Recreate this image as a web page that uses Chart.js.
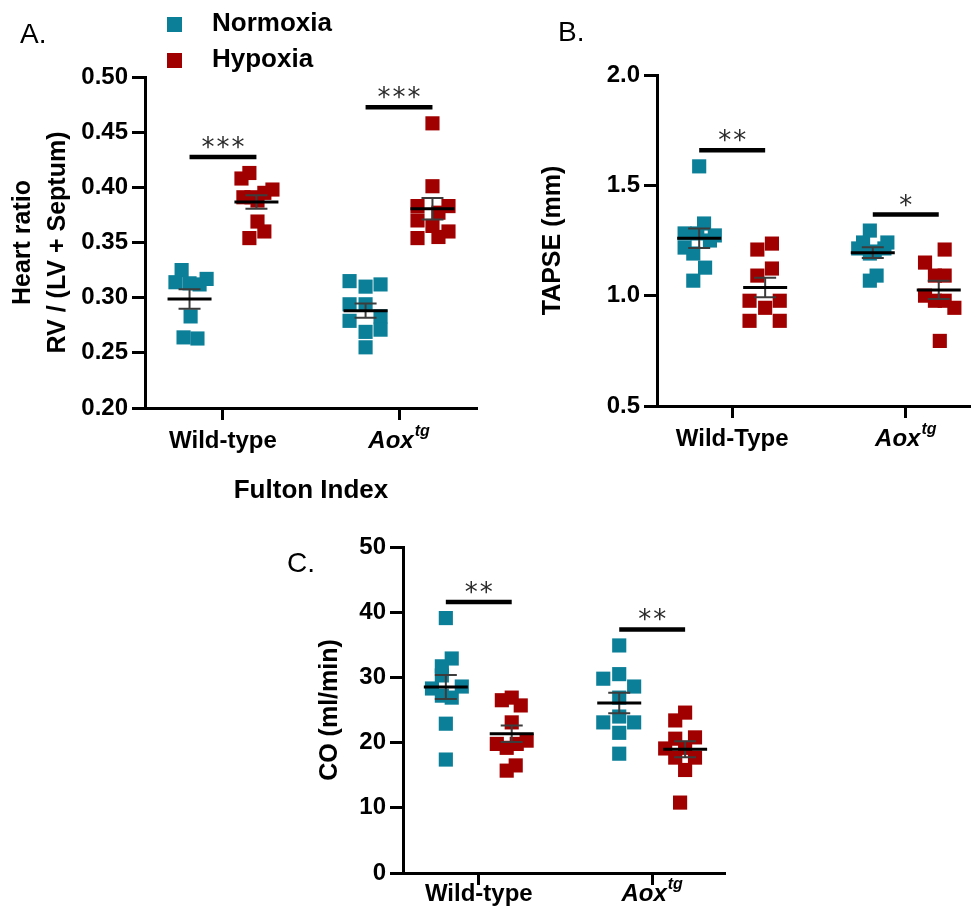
<!DOCTYPE html>
<html>
<head>
<meta charset="utf-8">
<title>Fulton index, TAPSE and cardiac output</title>
<script src="https://cdn.jsdelivr.net/npm/chart.js@4.4.0/dist/chart.umd.min.js"></script>
<style>
  html, body { margin: 0; padding: 0; background: #fff; }
  body { position: relative; width: 980px; height: 911px; overflow: hidden; }
  canvas { position: absolute; }
  #chartA { left: 0; top: 0; }
  #chartB { left: 490px; top: 0; }
  #chartC { left: 270px; top: 500px; }
</style>
</head>
<body>
<canvas id="chartA" width="490" height="520"></canvas>
<canvas id="chartB" width="490" height="460"></canvas>
<canvas id="chartC" width="480" height="411"></canvas>
<script>
const teal = '#0c7f98';
const crimson = '#a10000';
const GROUP_OFFSET = 0.19; // normoxia left of the genotype tick, hypoxia right

// A. Fulton index, RV / (LV + septum)
const fultonWtNormoxia = [0.325, 0.317, 0.314, 0.313, 0.312, 0.283, 0.264, 0.263];
const fultonWtNormoxiaJitter = [-0.045, 0.097, -0.08, 0, 0.057, 0.006, -0.034, 0.045];
const fultonWtHypoxia = [0.413, 0.408, 0.398, 0.395, 0.391, 0.391, 0.388, 0.369, 0.360, 0.354];
const fultonWtHypoxiaJitter = [-0.04, -0.085, 0.091, 0.045, -0.074, -0.028, 0.006, 0.006, 0.045, -0.04];
const fultonAoxNormoxia = [0.315, 0.312, 0.310, 0.294, 0.294, 0.283, 0.279, 0.271, 0.269, 0.255];
const fultonAoxNormoxiaJitter = [-0.091, 0.085, 0, -0.091, 0, 0.085, -0.091, 0.085, 0, 0];
const fultonAoxHypoxia = [0.458, 0.401, 0.383, 0.383, 0.377, 0.370, 0.365, 0.360, 0.355, 0.354];
const fultonAoxHypoxiaJitter = [0, 0, -0.085, 0.091, 0.034, -0.085, 0, 0.091, 0.034, -0.085];
const fultonTicks = [0.20, 0.25, 0.30, 0.35, 0.40, 0.45, 0.50];
const fultonStars = ['***', '***'];

// B. TAPSE (mm)
const tapseWtNormoxia = [1.586, 1.327, 1.282, 1.282, 1.273, 1.25, 1.218, 1.191, 1.127, 1.068];
const tapseWtNormoxiaJitter = [0, 0.028, -0.084, -0.011, 0.09, 0.062, -0.084, -0.034, 0.034, -0.034];
const tapseWtHypoxia = [1.236, 1.209, 1.123, 1.091, 0.977, 0.977, 0.945, 0.886, 0.886];
const tapseWtHypoxiaJitter = [0.039, -0.045, 0.039, -0.045, -0.09, 0.084, 0, -0.09, 0.084];
const tapseAoxNormoxia = [1.295, 1.241, 1.241, 1.214, 1.214, 1.20, 1.191, 1.091, 1.068];
const tapseAoxNormoxiaJitter = [-0.017, -0.056, 0.084, -0.084, 0.067, 0.011, -0.017, 0.022, -0.017];
const tapseAoxHypoxia = [1.209, 1.150, 1.091, 1.091, 1.000, 0.977, 0.977, 0.945, 0.795];
const tapseAoxHypoxiaJitter = [0.034, -0.079, -0.022, 0.034, -0.079, -0.022, 0.034, 0.09, 0.006];
const tapseTicks = [0.5, 1.0, 1.5, 2.0];
const tapseStars = ['**', '*'];

// C. cardiac output (ml/min)
const coWtNormoxia = [39.1, 32.9, 31.7, 30.3, 28.6, 28.3, 27.2, 26.9, 22.9, 17.4];
const coWtNormoxiaJitter = [0, 0.034, -0.023, -0.023, 0.092, -0.08, -0.023, 0.034, 0, 0];
const coWtHypoxia = [26.9, 26.5, 25.7, 23.1, 20.3, 19.8, 19.8, 19.2, 16.5, 15.7];
const coWtHypoxiaJitter = [0, -0.057, 0.052, 0, 0.086, -0.086, 0.029, -0.029, 0.023, -0.029];
const coAoxNormoxia = [34.9, 30.5, 29.8, 28.6, 26.9, 24.0, 23.1, 23.1, 21.5, 18.3];
const coAoxNormoxiaJitter = [0, 0, -0.092, 0.086, 0, 0, -0.092, 0.086, 0, 0];
const coAoxHypoxia = [24.6, 23.4, 20.8, 20.6, 19.2, 19.1, 17.7, 17.7, 15.8, 10.8];
const coAoxHypoxiaJitter = [0, -0.057, 0.057, -0.057, 0, -0.115, -0.057, 0.057, 0, -0.029];
const coTicks = [0, 10, 20, 30, 40, 50];
const coStars = ['**', '**'];

const genotypes = ['Wild-type', 'Aox'];
const genotypesB = ['Wild-Type', 'Aox'];
const genotypeSup = ['', 'tg'];
const genotypeItalic = [false, true];

const FONT = '"Liberation Sans", Arial, sans-serif';
const tickFont = { family: FONT, size: 24, weight: 'bold' };

function group(label, values, jitter, category, side, color) {
  const center = category + side * GROUP_OFFSET;
  return {
    label,
    category,
    center,
    data: values.map((v, i) => ({ x: center + jitter[i], y: v })),
    backgroundColor: color,
    borderWidth: 0,
    pointStyle: 'rect',
    pointRadius: 10,
  };
}

// mean line with SEM whiskers for every group
const groupStats = {
  id: 'groupStats',
  afterDatasetsDraw(chart) {
    const { ctx, scales: { x, y } } = chart;
    chart.data.datasets.forEach((ds) => {
      const vals = ds.data.map((p) => p.y);
      const n = vals.length;
      const mean = vals.reduce((a, b) => a + b, 0) / n;
      const sd = Math.sqrt(vals.reduce((a, b) => a + (b - mean) ** 2, 0) / (n - 1));
      const sem = sd / Math.sqrt(n);
      const cx = x.getPixelForValue(ds.center);
      const yMean = y.getPixelForValue(mean);
      const yHi = y.getPixelForValue(mean + sem);
      const yLo = y.getPixelForValue(mean - sem);
      ctx.save();
      ctx.strokeStyle = '#3c3c3c';
      ctx.lineWidth = 2;
      ctx.beginPath();
      ctx.moveTo(cx, yHi); ctx.lineTo(cx, yLo);
      ctx.moveTo(cx - 11, yHi); ctx.lineTo(cx + 11, yHi);
      ctx.moveTo(cx - 11, yLo); ctx.lineTo(cx + 11, yLo);
      ctx.stroke();
      ctx.strokeStyle = '#000';
      ctx.lineWidth = 3;
      ctx.beginPath();
      ctx.moveTo(cx - 22, yMean); ctx.lineTo(cx + 22, yMean);
      ctx.stroke();
      ctx.restore();
    });
  },
};

// normoxia vs hypoxia bracket with stars
const significance = {
  id: 'significance',
  afterDatasetsDraw(chart, args, opts) {
    const { ctx, scales: { x, y } } = chart;
    opts.stars.forEach((stars, cat) => {
      const vals = chart.data.datasets
        .filter((ds) => ds.category === cat)
        .flatMap((ds) => ds.data.map((p) => p.y));
      const barY = y.getPixelForValue(Math.max(...vals)) - 16;
      const x0 = x.getPixelForValue(cat - GROUP_OFFSET);
      const x1 = x.getPixelForValue(cat + GROUP_OFFSET);
      ctx.save();
      ctx.strokeStyle = '#000';
      ctx.lineWidth = 4.5;
      ctx.beginPath();
      ctx.moveTo(x0, barY); ctx.lineTo(x1, barY);
      ctx.stroke();
      ctx.fillStyle = '#2a2a2a';
      ctx.font = '26px "DejaVu Sans", sans-serif';
      ctx.textAlign = 'center';
      ctx.textBaseline = 'alphabetic';
      const mid = (x0 + x1) / 2;
      for (let i = 0; i < stars.length; i += 1) {
        ctx.fillText('*', mid + (i - (stars.length - 1) / 2) * 15, barY - 1);
      }
      ctx.restore();
    });
  },
};

// genotype labels under the x ticks (Aox is italic with a superscript)
const categoryLabels = {
  id: 'categoryLabels',
  afterDraw(chart, args, opts) {
    const { ctx, scales: { x }, chartArea } = chart;
    ctx.save();
    ctx.fillStyle = '#000';
    ctx.textBaseline = 'middle';
    ctx.textAlign = 'left';
    opts.labels.forEach((label, i) => {
      const mainFont = `${genotypeItalic[i] ? 'italic ' : ''}bold 24px ${FONT}`;
      const supFont = `italic bold 16px ${FONT}`;
      ctx.font = mainFont;
      const w = ctx.measureText(label).width;
      ctx.font = supFont;
      const ws = genotypeSup[i] ? ctx.measureText(genotypeSup[i]).width + 1 : 0;
      const cy = chartArea.bottom + opts.gap;
      const left = x.getPixelForValue(i) - (w + ws) / 2;
      ctx.font = mainFont;
      ctx.fillText(label, left, cy);
      if (genotypeSup[i]) {
        ctx.font = supFont;
        ctx.fillText(genotypeSup[i], left + w + 1, cy - 9);
      }
    });
    ctx.restore();
  },
};

// panel letter and, for panel A, the legend
const decorations = {
  id: 'decorations',
  afterDraw(chart, args, opts) {
    const { ctx } = chart;
    ctx.save();
    ctx.fillStyle = '#000';
    ctx.textBaseline = 'middle';
    ctx.textAlign = 'left';
    ctx.font = `28px ${FONT}`;
    ctx.fillText(opts.letter, opts.letterX, opts.letterY);
    (opts.legend || []).forEach((item, i) => {
      const cy = 24 + i * 36;
      ctx.fillStyle = item.color;
      ctx.fillRect(167, cy - 7, 15, 15);
      ctx.fillStyle = '#000';
      ctx.font = `bold 26px ${FONT}`;
      ctx.fillText(item.label, 212, cy);
    });
    ctx.restore();
  },
};

function yAxis(ticks, decimals, title, titlePad, width, lineHeight) {
  return {
    type: 'linear',
    min: ticks[0],
    max: ticks[ticks.length - 1],
    afterBuildTicks: (axis) => { axis.ticks = ticks.map((v) => ({ value: v })); },
    afterFit: (axis) => { axis.width = width; },
    border: { display: true, color: '#000', width: 3 },
    grid: { drawOnChartArea: false, drawTicks: true, tickLength: 13, tickWidth: 3, tickColor: '#000' },
    ticks: { padding: 4, color: '#000', font: tickFont, callback: (v) => Number(v).toFixed(decimals) },
    title: {
      display: true,
      text: title,
      color: '#000',
      font: { family: FONT, size: 25, weight: 'bold', lineHeight },
      padding: { top: titlePad, bottom: 0 },
    },
  };
}

function xAxis(min, max, height, title) {
  return {
    type: 'linear',
    min,
    max,
    afterBuildTicks: (axis) => { axis.ticks = [{ value: 0 }, { value: 1 }]; },
    afterFit: (axis) => { axis.height = height; },
    border: { display: true, color: '#000', width: 3 },
    grid: { drawOnChartArea: false, drawTicks: true, tickLength: 12, tickWidth: 3, tickColor: '#000' },
    ticks: { display: false },
    title: title
      ? { display: true, text: title, color: '#000', font: { family: FONT, size: 26, weight: 'bold' }, padding: { top: 0, bottom: 14 } }
      : { display: false },
  };
}

function makeChart(id, datasets, scales, padding, pluginOpts) {
  return new Chart(document.getElementById(id), {
    type: 'scatter',
    data: { datasets },
    options: {
      responsive: false,
      animation: false,
      events: [],
      layout: { padding },
      scales,
      plugins: {
        legend: { display: false },
        tooltip: { enabled: false },
        ...pluginOpts,
      },
    },
    plugins: [groupStats, significance, categoryLabels, decorations],
  });
}

makeChart('chartA', [
  group('Normoxia', fultonWtNormoxia, fultonWtNormoxiaJitter, 0, -1, teal),
  group('Normoxia', fultonAoxNormoxia, fultonAoxNormoxiaJitter, 1, -1, teal),
  group('Hypoxia', fultonWtHypoxia, fultonWtHypoxiaJitter, 0, 1, crimson),
  group('Hypoxia', fultonAoxHypoxia, fultonAoxHypoxiaJitter, 1, 1, crimson),
], {
  x: xAxis(-0.443, 1.443, 112, 'Fulton Index'),
  y: yAxis(fultonTicks, 2, ['Heart ratio', 'RV / (LV + Septum)'], 5.5, 145, 1.4),
}, { top: 77, right: 13, bottom: 0, left: 0 }, {
  significance: { stars: fultonStars },
  categoryLabels: { labels: genotypes, gap: 33 },
  decorations: {
    letter: 'A.', letterX: 20, letterY: 35,
    legend: [{ label: 'Normoxia', color: teal }, { label: 'Hypoxia', color: crimson }],
  },
});

makeChart('chartB', [
  group('Normoxia', tapseWtNormoxia, tapseWtNormoxiaJitter, 0, -1, teal),
  group('Normoxia', tapseAoxNormoxia, tapseAoxNormoxiaJitter, 1, -1, teal),
  group('Hypoxia', tapseWtHypoxia, tapseWtHypoxiaJitter, 0, 1, crimson),
  group('Hypoxia', tapseAoxHypoxia, tapseAoxHypoxiaJitter, 1, 1, crimson),
], {
  x: xAxis(-0.433, 1.37, 54, null),
  y: yAxis(tapseTicks, 1, 'TAPSE (mm)', 48, 167, 1.2),
}, { top: 75, right: 2, bottom: 0, left: 0 }, {
  significance: { stars: tapseStars },
  categoryLabels: { labels: genotypesB, gap: 33 },
  decorations: { letter: 'B.', letterX: 68, letterY: 33 },
});

makeChart('chartC', [
  group('Normoxia', coWtNormoxia, coWtNormoxiaJitter, 0, -1, teal),
  group('Normoxia', coAoxNormoxia, coAoxNormoxiaJitter, 1, -1, teal),
  group('Hypoxia', coWtHypoxia, coWtHypoxiaJitter, 0, 1, crimson),
  group('Hypoxia', coAoxHypoxia, coAoxHypoxiaJitter, 1, 1, crimson),
], {
  x: xAxis(-0.437, 1.42, 38, null),
  y: yAxis(coTicks, 0, 'CO (ml/min)', 45, 133, 1.2),
}, { top: 47, right: 25, bottom: 0, left: 0 }, {
  significance: { stars: coStars },
  categoryLabels: { labels: genotypes, gap: 21 },
  decorations: { letter: 'C.', letterX: 17, letterY: 64 },
});
</script>
</body>
</html>
